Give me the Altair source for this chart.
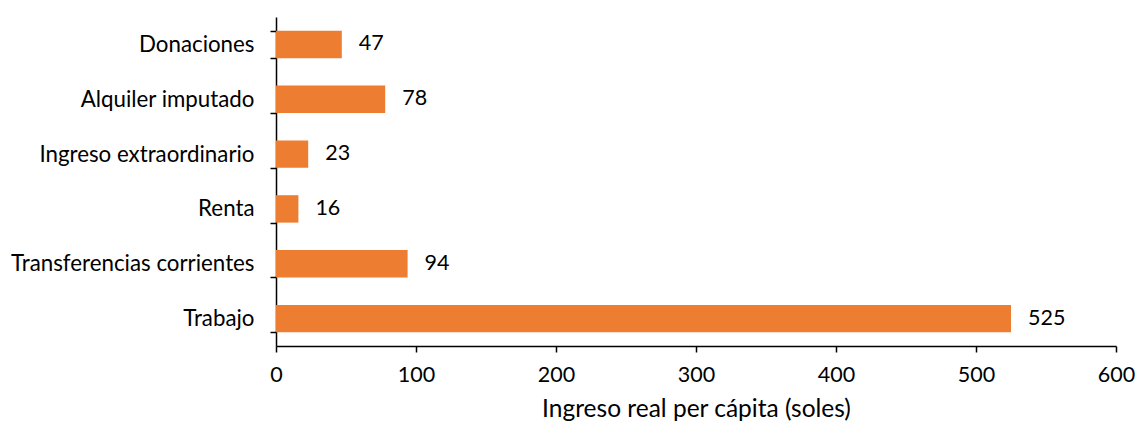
import altair as alt
import pandas as pd

categories = ["Donaciones", "Alquiler imputado", "Ingreso extraordinario", "Renta",
              "Transferencias corrientes", "Trabajo"]
values = [47, 78, 23, 16, 94, 525]

df = pd.DataFrame({"cat": categories, "val": values})

FONT = "Lato"
FS = 21.5

y_enc = alt.Y("cat:N", sort=categories, title=None,
              scale=alt.Scale(paddingInner=0.5, paddingOuter=0.25),
              axis=alt.Axis(tickBand="extent", labelFontSize=22.3, labelFont=FONT, labelLimit=400,
                            labelColor="#000000", domainColor="#000000", domainWidth=1.5,
                            tickColor="#000000", tickWidth=1.5, tickSize=6, labelPadding=16))
x_enc = alt.X("val:Q", title="Ingreso real per cápita (soles)",
              scale=alt.Scale(domain=[0, 600], nice=False),
              axis=alt.Axis(values=[0, 100, 200, 300, 400, 500, 600], grid=False,
                            labelFontSize=FS, labelFont=FONT, labelColor="#000000",
                            labelFlush=False,
                            titleFontSize=24.5, titleFont=FONT, titleFontWeight="normal",
                            titleColor="#000000", titlePadding=12,
                            domainColor="#000000", domainWidth=1.5,
                            tickColor="#000000", tickWidth=1.5, tickSize=6, labelPadding=12))

bars = alt.Chart(df).mark_bar(color="#ED7D31").encode(x=x_enc, y=y_enc)
labels = alt.Chart(df).mark_text(align="left", baseline="middle", dx=17, fontSize=FS,
                                 font=FONT, color="#000000").encode(
    x="val:Q", y=alt.Y("cat:N", sort=categories), text="val:Q")

chart = (bars + labels).properties(
    width=840, height=329,
    autosize=alt.AutoSizeParams(type="none"),
    padding={"left": 268, "top": 9, "right": 19, "bottom": 80},
).configure_view(stroke=None)

chart.save("out.html", embed_options={"renderer": "svg", "actions": False})
